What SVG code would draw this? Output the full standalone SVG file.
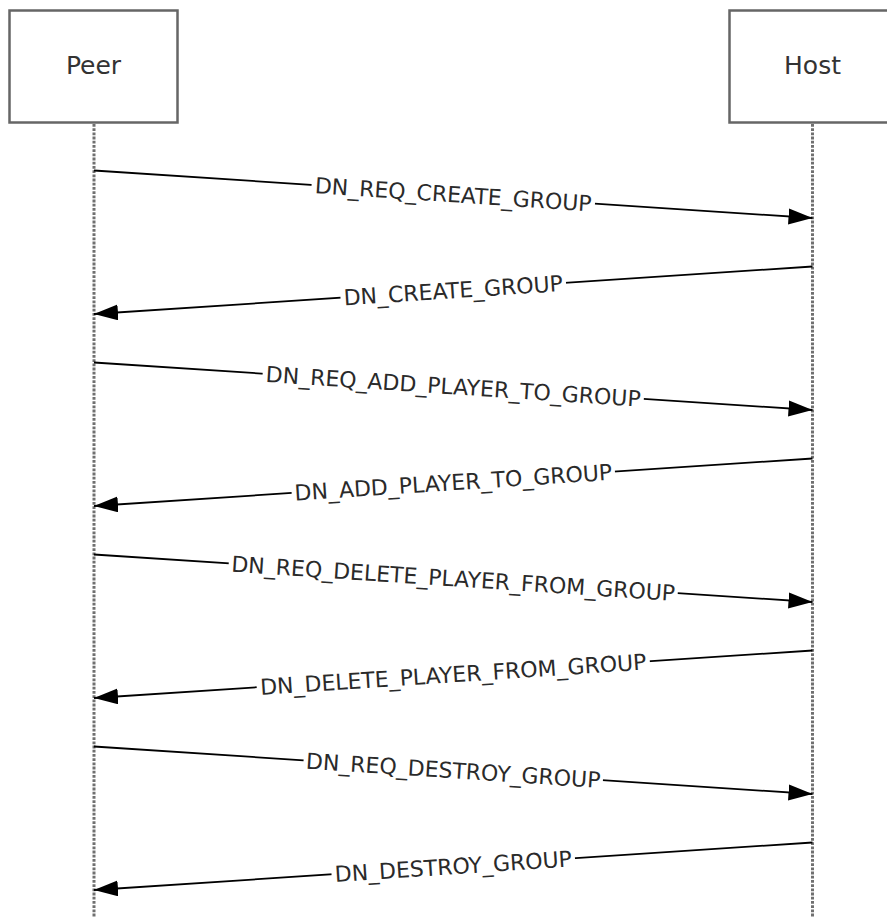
<svg xmlns="http://www.w3.org/2000/svg" width="887" height="917" viewBox="0 0 887 917">
<style>
.box{fill:#fff;stroke:#666;stroke-width:2.5}
.life{stroke:#707070;stroke-width:3;stroke-dasharray:2.8 1.4;fill:none}
.msg{stroke:#000;stroke-width:1.8;fill:none;marker-end:url(#ah)}
.nt{font-family:"DejaVu Sans",Verdana,sans-serif;font-size:25px;fill:#333;text-anchor:middle}
.lb{font-family:"DejaVu Sans",Verdana,sans-serif;font-size:22px;fill:#2a2a2a;text-anchor:middle}
.bg{fill:#fff}
</style>
<defs>
<marker id="ah" markerUnits="userSpaceOnUse" markerWidth="26" markerHeight="18" refX="24" refY="8" orient="auto">
<path d="M0,0 L24,8 L0,16 Z" fill="#000"/>
</marker>
</defs>
<g id="peer">
<rect class="box" x="9.5" y="10.5" width="168" height="112"/>
<text class="nt" x="93.5" y="74">Peer</text>
</g>
<g id="host">
<rect class="box" x="729.5" y="10.5" width="168" height="112"/>
<text class="nt" x="812.5" y="74">Host</text>
</g>
<g id="lifelines">
<line class="life" x1="94" y1="124" x2="94" y2="917"/>
<line class="life" x1="812.5" y1="124" x2="812.5" y2="917"/>
</g>
<g id="connectors">
<line class="msg" x1="94" y1="170.5" x2="812.5" y2="218"/>
<line class="msg" x1="812.5" y1="266.5" x2="94" y2="314"/>
<line class="msg" x1="94" y1="362.5" x2="812.5" y2="410"/>
<line class="msg" x1="812.5" y1="458.5" x2="94" y2="506"/>
<line class="msg" x1="94" y1="554.5" x2="812.5" y2="602"/>
<line class="msg" x1="812.5" y1="650.5" x2="94" y2="698"/>
<line class="msg" x1="94" y1="746.5" x2="812.5" y2="794"/>
<line class="msg" x1="812.5" y1="842.5" x2="94" y2="890"/>
</g>
<g id="labels">
<g transform="translate(453.25,194.25) rotate(3.78)"><rect class="bg" x="-142" y="-9" width="284" height="18"/><text class="lb" y="8">DN_REQ_CREATE_GROUP</text></g>
<g transform="translate(453.25,290.25) rotate(-3.78)"><rect class="bg" x="-113" y="-9" width="226" height="18"/><text class="lb" y="8">DN_CREATE_GROUP</text></g>
<g transform="translate(453.25,386.25) rotate(3.78)"><rect class="bg" x="-191" y="-9" width="382" height="18"/><text class="lb" y="8">DN_REQ_ADD_PLAYER_TO_GROUP</text></g>
<g transform="translate(453.25,482.25) rotate(-3.78)"><rect class="bg" x="-162" y="-9" width="324" height="18"/><text class="lb" y="8">DN_ADD_PLAYER_TO_GROUP</text></g>
<g transform="translate(453.25,578.25) rotate(3.78)"><rect class="bg" x="-225" y="-9" width="450" height="18"/><text class="lb" y="8">DN_REQ_DELETE_PLAYER_FROM_GROUP</text></g>
<g transform="translate(453.25,674.25) rotate(-3.78)"><rect class="bg" x="-197" y="-9" width="394" height="18"/><text class="lb" y="8">DN_DELETE_PLAYER_FROM_GROUP</text></g>
<g transform="translate(453.25,770.25) rotate(3.78)"><rect class="bg" x="-150" y="-9" width="300" height="18"/><text class="lb" y="8">DN_REQ_DESTROY_GROUP</text></g>
<g transform="translate(453.25,866.25) rotate(-3.78)"><rect class="bg" x="-122" y="-9" width="244" height="18"/><text class="lb" y="8">DN_DESTROY_GROUP</text></g>
</g>
</svg>
